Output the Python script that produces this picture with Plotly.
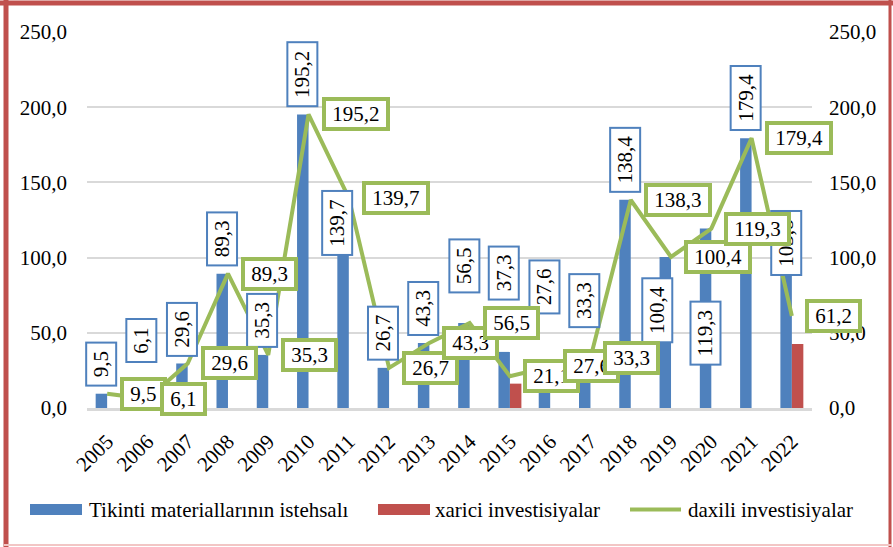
import plotly.graph_objects as go

# ---------------- data ----------------
years = [str(y) for y in range(2005, 2023)]
production = [9.5, 6.1, 29.6, 89.3, 35.3, 195.2, 139.7, 26.7, 43.3, 56.5,
              37.3, 27.6, 33.3, 138.4, 100.4, 119.3, 179.4, 103.8]
foreign_inv = [None, None, None, None, None, None, None, None, None, None,
               16.2, None, None, None, None, None, None, 42.6]
domestic_inv = [9.5, 6.1, 29.6, 89.3, 35.3, 195.2, 139.7, 26.7, 43.3, 56.5,
                21.1, 27.6, 33.3, 138.3, 100.4, 119.3, 179.4, 61.2]
y_ticks = [0, 50, 100, 150, 200, 250]

series_names = ["Tikinti materiallarının istehsalı", "xarici investisiyalar", "daxili investisiyalar"]

# ---------------- style ----------------
BLUE = "#4F81BD"
RED = "#C0504D"
GREEN = "#9BBB59"
GRID = "#D9D9D9"
FONT = "Liberation Serif"
FS = 21
W, H = 893, 547
ML, MR, MT, MB = 87, 81, 32, 139
PW = W - ML - MR
PH = H - MT - MB

# label nudges (pixels) for the rotated bar labels, as placed in the original
blue_dy = [0, 29, 0, 0, 0, 0, -65, 0, 0, 23, 44, 45, 23, 0, -93, -144, 0, -31]
blue_dx = [0, 0, 0, 0, 0, 0, -6, 0, 0, 0, 0, 0, 0, 0, -8, 0, 0, 0]


def fmt(v):
    return f"{v:.1f}".replace(".", ",")


def px_x(px):
    return (px - ML) / PW


def px_y(py):
    return (MT + PH - py) / PH


fig = go.Figure()
fig.add_trace(go.Bar(x=years, y=production, name=series_names[0],
                     marker=dict(color=BLUE, line=dict(width=0)), showlegend=False))
fig.add_trace(go.Bar(x=years, y=foreign_inv, name=series_names[1],
                     marker=dict(color=RED, line=dict(width=0)), showlegend=False))
fig.add_trace(go.Scatter(x=years, y=domestic_inv, name=series_names[2], mode="lines",
                         yaxis="y2", line=dict(color=GREEN, width=4), showlegend=False))

annotations = []
nb = "\u00a0"
bar_off = -5.75
for i, v in enumerate(production):
    annotations.append(dict(
        x=i, y=v, xref="x", yref="y", text=nb + fmt(v) + nb, textangle=-90,
        showarrow=False, xanchor="center", yanchor="bottom",
        xshift=bar_off + blue_dx[i], yshift=7 + blue_dy[i],
        bgcolor="white", bordercolor=BLUE, borderwidth=2, borderpad=2,
        font=dict(family=FONT, size=FS, color="black")))
for i, v in enumerate(domestic_inv):
    annotations.append(dict(
        x=i, y=v, xref="x", yref="y2", text=nb + fmt(v) + nb,
        showarrow=False, xanchor="left", yanchor="middle", xshift=13,
        bgcolor="white", bordercolor=GREEN, borderwidth=4, borderpad=1,
        font=dict(family=FONT, size=FS, color="black")))

# custom legend
legend_y = px_y(509.5)
shapes = [
    dict(type="rect", xref="paper", yref="paper", x0=px_x(30), x1=px_x(82),
         y0=px_y(504), y1=px_y(515), fillcolor=BLUE, line=dict(width=0)),
    dict(type="rect", xref="paper", yref="paper", x0=px_x(378), x1=px_x(430),
         y0=px_y(504), y1=px_y(515), fillcolor=RED, line=dict(width=0)),
    dict(type="line", xref="paper", yref="paper", x0=px_x(630), x1=px_x(681),
         y0=legend_y, y1=legend_y, line=dict(color=GREEN, width=4)),
    # outer frame
    dict(type="line", xref="paper", yref="paper", x0=px_x(6), x1=px_x(6),
         y0=px_y(0), y1=px_y(547), line=dict(color=RED, width=5)),
    dict(type="line", xref="paper", yref="paper", x0=px_x(0), x1=px_x(893),
         y0=px_y(3), y1=px_y(3), line=dict(color=RED, width=5)),
    dict(type="line", xref="paper", yref="paper", x0=px_x(890), x1=px_x(890),
         y0=px_y(0), y1=px_y(547), line=dict(color=RED, width=3)),
    dict(type="line", xref="paper", yref="paper", x0=px_x(4), x1=px_x(892),
         y0=px_y(545), y1=px_y(545), line=dict(color="#F2C6C5", width=2)),
]
for name, xpx in zip(series_names, [87, 433, 686]):
    annotations.append(dict(x=px_x(xpx), y=legend_y, xref="paper", yref="paper",
                            text=name, showarrow=False, xanchor="left", yanchor="middle",
                            font=dict(family=FONT, size=FS, color="black")))

fig.update_layout(
    width=W, height=H,
    margin=dict(l=ML, r=MR, t=MT, b=MB, pad=0),
    paper_bgcolor="white", plot_bgcolor="white",
    separators=", ",
    barmode="group", bargap=0.43, bargroupgap=0,
    font=dict(family=FONT, size=FS, color="black"),
    showlegend=False,
    xaxis=dict(type="category", range=[-0.5, len(years) - 0.5], autorange=False,
               tickangle=-45, showgrid=False, showline=True,
               linecolor=GRID, linewidth=3, ticks="", zeroline=False,
               ticklabelstandoff=10,
               tickfont=dict(family=FONT, size=FS, color="black")),
    yaxis=dict(range=[0, 250], autorange=False, tickvals=y_ticks, tickformat=".1f",
               showgrid=True, gridcolor=GRID, gridwidth=2, zeroline=False,
               showline=False, ticks="", ticklabelstandoff=19,
               tickfont=dict(family=FONT, size=FS, color="black")),
    yaxis2=dict(range=[0, 250], autorange=False, tickvals=y_ticks, tickformat=".1f",
                overlaying="y", side="right", showgrid=False, zeroline=False,
                showline=False, ticks="", ticklabelstandoff=16,
                tickfont=dict(family=FONT, size=FS, color="black")),
    annotations=annotations,
    shapes=shapes,
)

fig.write_html("out.html", config={"displayModeBar": False},
               post_script="document.body.style.margin='0';")
